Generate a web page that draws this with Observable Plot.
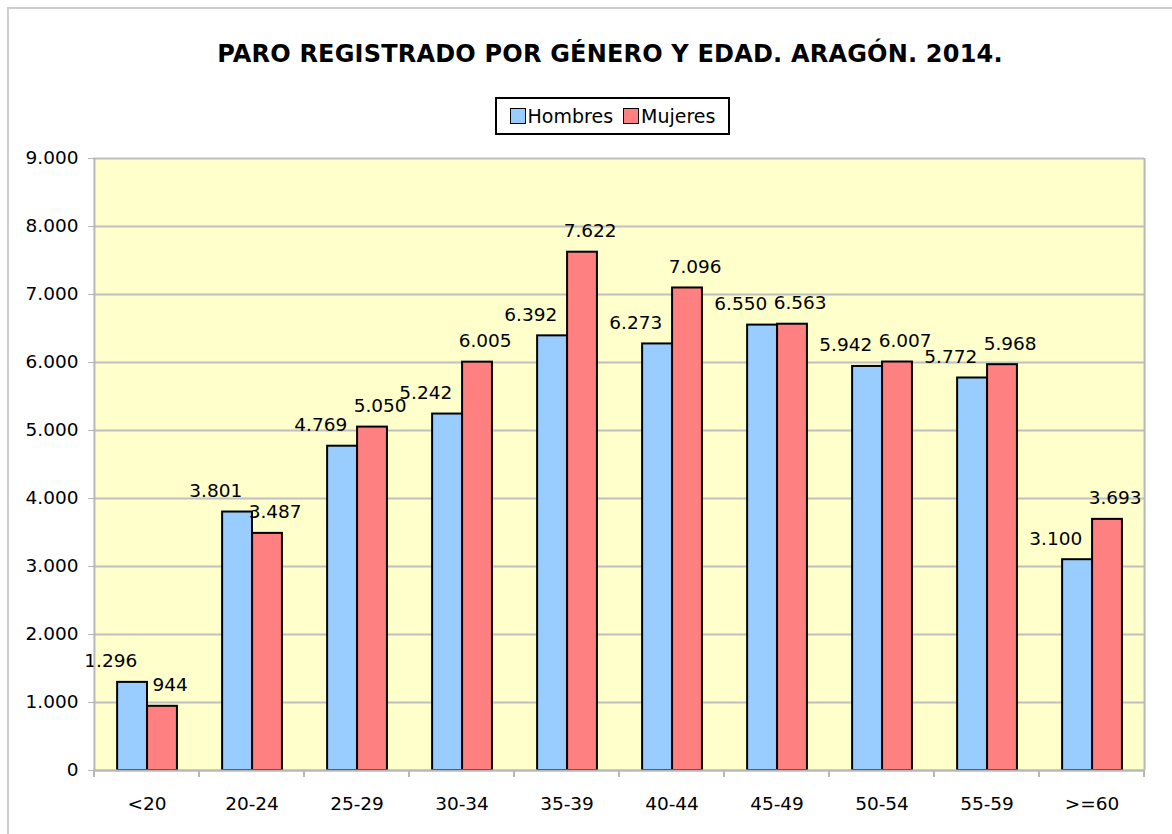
<!DOCTYPE html>
<html>
<head>
<meta charset="utf-8">
<script src="https://cdn.jsdelivr.net/npm/d3@7"></script>
<script src="https://cdn.jsdelivr.net/npm/@observablehq/plot@0.6"></script>
<style>
  html, body { margin: 0; padding: 0; background: #fff; }
  body { width: 1172px; height: 834px; position: relative; overflow: hidden; font-family: "DejaVu Sans", sans-serif; }
  #frame { position: absolute; left: 7px; top: 7px; width: 1200px; height: 900px; border-left: 2px solid #cfcfcf; border-top: 2px solid #cfcfcf; }
  #title { position: absolute; left: 0; width: 1220px; top: 40px; text-align: center; font-weight: bold; font-size: 24px; color: #000; letter-spacing: 0.2px; }
  #legend { position: absolute; left: 495px; top: 97px; width: 235px; height: 38px; border: 2px solid #000; box-sizing: border-box; display: flex; align-items: center; justify-content: center; gap: 10px; font-size: 19px; }
  .sw { display: inline-block; width: 14px; height: 14px; border: 1.5px solid #000; margin-right: 2px; vertical-align: -1px; }
  #chart { position: absolute; left: 0; top: 140px; }
</style>
</head>
<body>
<div id="frame"></div>
<div id="title">PARO REGISTRADO POR GÉNERO Y EDAD. ARAGÓN. 2014.</div>
<div id="legend"></div>
<div id="chart"></div>
<script>
const categories = ["<20", "20-24", "25-29", "30-34", "35-39", "40-44", "45-49", "50-54", "55-59", ">=60"];
const hombres = [1296, 3801, 4769, 5242, 6392, 6273, 6550, 5942, 5772, 3100];
const mujeres = [944, 3487, 5050, 6005, 7622, 7096, 6563, 6007, 5968, 3693];
const seriesNames = ["Hombres", "Mujeres"];
const seriesColors = ["#99CCFF", "#FF8080"];
const yTicks = [0, 1000, 2000, 3000, 4000, 5000, 6000, 7000, 8000, 9000];

const es = d3.formatLocale({decimal: ",", thousands: ".", grouping: [3], currency: ["", " €"]});
const fmt = es.format(",d");

const rows = [];
categories.forEach((c, i) => {
  rows.push({cat: c, serie: "Hombres", value: hombres[i]});
  rows.push({cat: c, serie: "Mujeres", value: mujeres[i]});
});
const H = rows.filter(d => d.serie === "Hombres");
const M = rows.filter(d => d.serie === "Mujeres");

// legend
const legend = document.getElementById("legend");
seriesNames.forEach((s, i) => {
  const span = document.createElement("span");
  span.innerHTML = `<span class="sw" style="background:${seriesColors[i]}"></span>${s}`;
  legend.appendChild(span);
});

const W = 1172, mL = 93, mR = 28, mT = 18, plotH = 612, mB = 60;
const bw = (W - mL - mR) / categories.length;

function boundaryTicks(index, scales, values, dims) {
  const g = d3.create("svg:g").attr("stroke", "#b8b8b8").attr("stroke-width", 2);
  const xs = categories.map(c => scales.x(c));
  xs.push(scales.x(categories[categories.length - 1]) + scales.x.bandwidth());
  const y0 = dims.height - dims.marginBottom;
  xs.forEach(x => g.append("line").attr("x1", x).attr("x2", x).attr("y1", y0).attr("y2", y0 + 7));
  return g.node();
}

const plot = Plot.plot({
  width: W,
  height: mT + plotH + mB,
  marginLeft: mL,
  marginRight: mR,
  marginTop: mT,
  marginBottom: mB,
  style: {fontFamily: "DejaVu Sans, sans-serif", fontSize: "18px", color: "#000", background: "transparent", overflow: "visible"},
  x: {domain: categories, padding: 0, label: null},
  y: {domain: [0, 9000], label: null},
  marks: [
    Plot.frame({fill: "#FFFFCC", stroke: null}),
    Plot.gridY(yTicks, {stroke: "#c0c0c0", strokeOpacity: 1, strokeWidth: 2}),
    Plot.barY(H, {x: "cat", y: "value", fill: seriesColors[0], stroke: "#000", strokeWidth: 2,
      insetLeft: bw * 0.22, insetRight: bw * 0.495}),
    Plot.barY(M, {x: "cat", y: "value", fill: seriesColors[1], stroke: "#000", strokeWidth: 2,
      insetLeft: bw * 0.505, insetRight: bw * 0.21}),
    Plot.text(H, {x: "cat", y: "value", text: d => fmt(d.value), dx: -bw * 0.345, dy: -15, lineAnchor: "bottom", fontSize: 18.5, fill: "#000"}),
    Plot.text(M, {x: "cat", y: "value", text: d => fmt(d.value), dx: bw * 0.22, dy: -15, lineAnchor: "bottom", fontSize: 18.5, fill: "#000"}),
    Plot.ruleX([0], {x: () => categories[0], dx: -bw / 2, stroke: "#b8b8b8", strokeWidth: 2, y1: 0, y2: 9000}),
    Plot.ruleX([0], {x: () => categories[categories.length - 1], dx: bw / 2, stroke: "#b8b8b8", strokeWidth: 2, y1: 0, y2: 9000}),
    Plot.ruleY([0], {stroke: "#b8b8b8", strokeWidth: 2}),
    Plot.axisY(yTicks, {tickFormat: fmt, tickSize: 5, tickPadding: 10, stroke: "#b8b8b8", fontSize: 18.5, label: null}),
    Plot.axisX({tickSize: 0, tickPadding: 26, fontSize: 18.5, label: null}),
    boundaryTicks
  ]
});
document.getElementById("chart").appendChild(plot);
</script>
</body>
</html>
